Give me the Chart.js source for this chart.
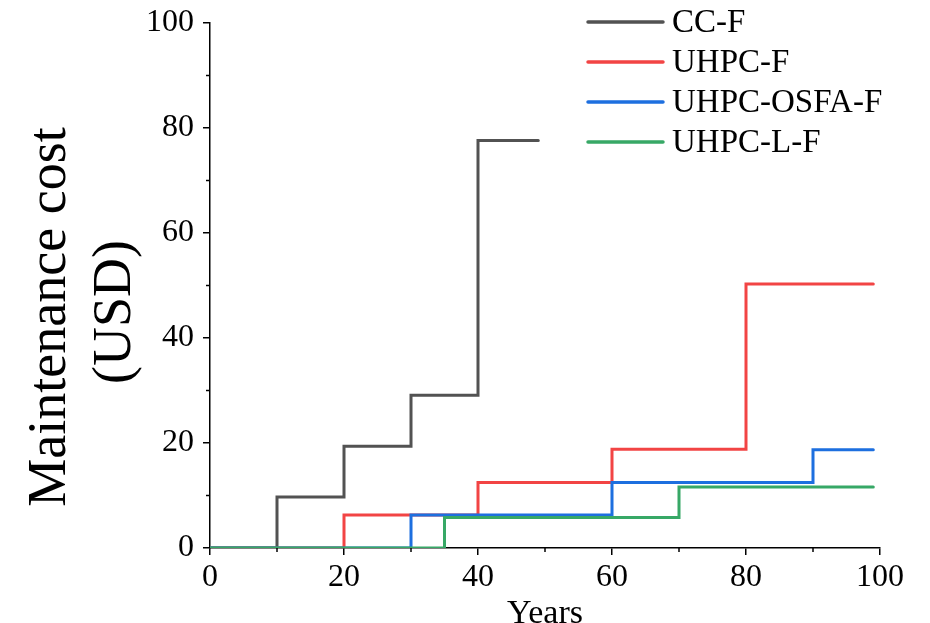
<!DOCTYPE html>
<html>
<head>
<meta charset="utf-8">
<script src="https://cdn.jsdelivr.net/npm/chart.js@4.4.1/dist/chart.umd.min.js"></script>
<style>
  html, body { margin:0; padding:0; background:#fff; }
  #wrap { width:930px; height:623px; position:relative; }
</style>
</head>
<body>
<div id="wrap"><canvas id="c"></canvas></div>
<script>
/* ── data (step changes) ── */
var ccfYears  = [0, 10, 20, 30, 40, 49];
var ccfCost   = [0, 9.7, 19.4, 29.1, 77.6, 77.6];
var uhpcYears = [0, 20, 40, 60, 80, 99];
var uhpcCost  = [0, 6.3, 12.5, 18.8, 50.3, 50.3];
var osfaYears = [0, 30, 60, 90, 99];
var osfaCost  = [0, 6.3, 12.5, 18.7, 18.7];
var lYears    = [0, 35, 70, 99];
var lCost     = [0, 5.8, 11.6, 11.6];

var seriesNames = ['CC-F', 'UHPC-F', 'UHPC-OSFA-F', 'UHPC-L-F'];
var xTicks = [0, 20, 40, 60, 80, 100];
var yTicks = [0, 20, 40, 60, 80, 100];
var yTitleLines = ['Maintenance cost', '(USD)'];

var FONT = '"Liberation Serif", "Times New Roman", serif';

function pts(xs, ys){
  return xs.map(function(x, i){ return {x: x, y: ys[i]}; });
}

function ds(label, data, color, order){
  return {
    label: label, data: data, borderColor: color, backgroundColor: color,
    borderWidth: 3, pointRadius: 0, stepped: true, fill: false, order: order,
    borderCapStyle: 'round'
  };
}

/* ── minor ticks, y title, custom legend ── */
var extrasPlugin = {
  id: 'extras',
  afterDraw: function(chart){
    var ctx = chart.ctx, xs = chart.scales.x, ys = chart.scales.y;
    var area = chart.chartArea;
    ctx.save();
    ctx.strokeStyle = '#000';
    ctx.lineWidth = 1.5;
    [10, 30, 50, 70, 90].forEach(function(v){
      var px = xs.getPixelForValue(v);
      ctx.beginPath(); ctx.moveTo(px, area.bottom); ctx.lineTo(px, area.bottom + 4); ctx.stroke();
      var py = ys.getPixelForValue(v);
      ctx.beginPath(); ctx.moveTo(area.left, py); ctx.lineTo(area.left - 4, py); ctx.stroke();
    });

    // y title, two lines, sits a bit below the axis centre like the original
    ctx.fillStyle = '#000';
    ctx.font = '54px ' + FONT;
    ctx.textAlign = 'center';
    ctx.textBaseline = 'alphabetic';
    yTitleLines.forEach(function(t, i){
      ctx.save();
      ctx.translate(65 + i * 65, 317 - i * 5);
      ctx.rotate(-Math.PI / 2);
      ctx.fillText(t, 0, 0);
      ctx.restore();
    });

    // legend
    ctx.font = '33px ' + FONT;
    ctx.textBaseline = 'middle';
    ctx.textAlign = 'left';
    ctx.lineCap = 'round';
    chart.data.datasets.forEach(function(d, i){
      var y = 22 + i * 40;
      ctx.strokeStyle = d.borderColor;
      ctx.lineWidth = 3.5;
      ctx.beginPath(); ctx.moveTo(588, y); ctx.lineTo(663, y); ctx.stroke();
      ctx.fillStyle = '#000';
      ctx.fillText(d.label, 672, y + 1);
    });
    ctx.restore();
  }
};

new Chart(document.getElementById('c'), {
  type: 'line',
  data: {
    datasets: [
      ds(seriesNames[0], pts(ccfYears, ccfCost), '#525252', 4),
      ds(seriesNames[1], pts(uhpcYears, uhpcCost), '#F24444', 3),
      ds(seriesNames[2], pts(osfaYears, osfaCost), '#1D6FDF', 2),
      ds(seriesNames[3], pts(lYears, lCost), '#37A866', 1)
    ]
  },
  options: {
    responsive: true,
    maintainAspectRatio: false,
    animation: false,
    layout: { padding: { left: 137, right: 0, top: 0, bottom: -8 } },
    plugins: {
      legend: { display: false },
      tooltip: { enabled: false }
    },
    scales: {
      x: {
        type: 'linear', min: 0, max: 100,
        afterBuildTicks: function(s){ s.ticks = xTicks.map(function(v){ return {value: v}; }); },
        afterFit: function(s){ s.paddingRight = 50; s.paddingLeft = 0; },
        ticks: { color: '#000', font: { family: FONT, size: 32, lineHeight: 1.0 }, padding: 7, maxRotation: 0 },
        grid: { drawOnChartArea: false, color: '#000', lineWidth: 1.5, tickLength: 7 },
        border: { display: true, color: '#000', width: 1.5 },
        title: { display: true, text: 'Years', color: '#000', font: { family: FONT, size: 34, lineHeight: 1.0 }, padding: { top: -4, bottom: 0 } }
      },
      y: {
        type: 'linear', min: 0, max: 100,
        afterBuildTicks: function(s){ s.ticks = yTicks.map(function(v){ return {value: v}; }); },
        afterFit: function(s){ s.paddingTop = 23; s.paddingBottom = 0; },
        ticks: { color: '#000', font: { family: FONT, size: 32 }, padding: 9 },
        grid: { drawOnChartArea: false, color: '#000', lineWidth: 1.5, tickLength: 7 },
        border: { display: true, color: '#000', width: 1.5 }
      }
    }
  },
  plugins: [extrasPlugin]
});
</script>
</body>
</html>
